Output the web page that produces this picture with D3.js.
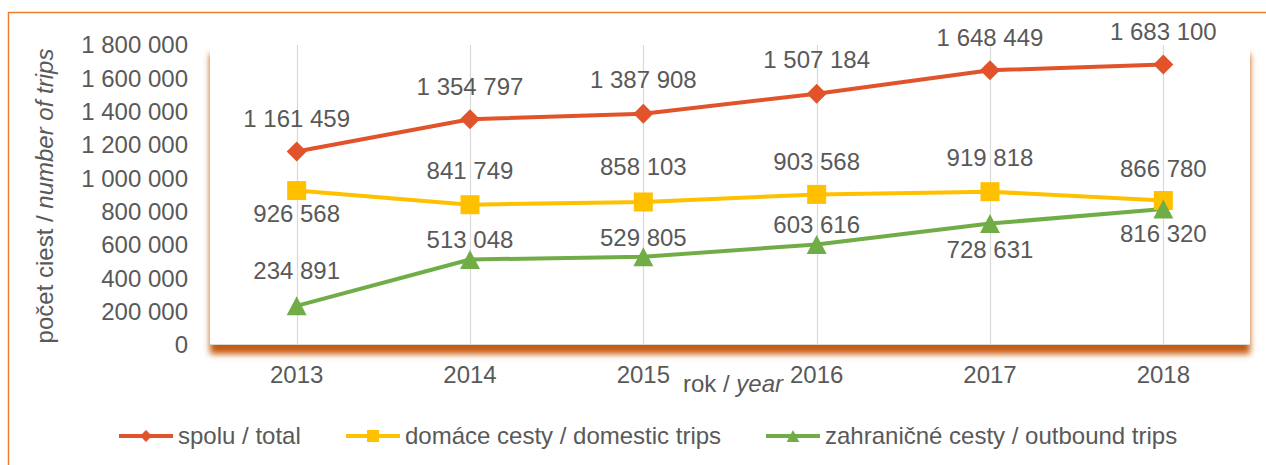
<!DOCTYPE html>
<html><head><meta charset="utf-8">
<script src="https://cdn.jsdelivr.net/npm/d3@7"></script>
<style>
html,body{margin:0;padding:0;background:#fff;}
svg{display:block;font-family:"Liberation Sans",Arial,sans-serif;}
</style></head>
<body><svg id="c" width="1266" height="465"></svg>
<script>
const years = ["2013","2014","2015","2016","2017","2018"];
const total = [1161459,1354797,1387908,1507184,1648449,1683100];
const domestic = [926568,841749,858103,903568,919818,866780];
const outbound = [234891,513048,529805,603616,728631,816320];
const yTicks = [0,200000,400000,600000,800000,1000000,1200000,1400000,1600000,1800000];
const seriesNames = ["spolu / total","domáce cesty / domestic trips","zahraničné cesty / outbound trips"];
// label placement (layout, not data)
const totalLabelDy = [-33,-33,-34,-34,-33,-33];
const domesticLabelDy = [23,-34,-35,-33,-34,-32];
const outboundLabelDy = [-35,-20,-19,-20,26,25];

const W=1266,H=465;
const svg=d3.select("#c");
const TXT="#595959";
const loc=d3.formatLocale({thousands:" ",grouping:[3],decimal:",",currency:["",""]});
const fmt=loc.format(",d");

// frame
svg.append("rect").attr("x",8.5).attr("y",12.5).attr("width",W).attr("height",H)
  .attr("fill","none").attr("stroke","#ED7D31").attr("stroke-width",1.5);

const x=d3.scaleBand().domain(years).range([210,1250]).padding(0);
const y=d3.scaleLinear().domain([0,1800000]).range([345,45]);
const cx=d=>x(d)+x.bandwidth()/2;

const defs=svg.append("defs");
const f=defs.append("filter").attr("id","sh").attr("x","-5%").attr("y","-10%").attr("width","110%").attr("height","130%");
f.append("feDropShadow").attr("dx",0).attr("dy",9).attr("stdDeviation",3)
  .attr("flood-color","#C55A11").attr("flood-opacity",1);

svg.append("rect").attr("x",x.range()[0]).attr("y",y(1800000))
  .attr("width",x.range()[1]-x.range()[0]).attr("height",y(0)-y(1800000))
  .attr("fill","#fff").attr("filter","url(#sh)");

// vertical gridlines
svg.append("g").selectAll("line").data(years).join("line")
  .attr("x1",d=>Math.round(cx(d))+0.5).attr("x2",d=>Math.round(cx(d))+0.5).attr("y1",y(1800000)).attr("y2",y(0))
  .attr("stroke","#D9D9D9").attr("stroke-width",1.2);
svg.append("line").attr("x1",x.range()[0]).attr("x2",x.range()[1]).attr("y1",y(0)-0.5).attr("y2",y(0)-0.5)
  .attr("stroke","#D9D9D9").attr("stroke-width",1.2);

// axes
const ya=svg.append("g").attr("transform",`translate(${x.range()[0]},0)`)
  .call(d3.axisLeft(y).tickValues(yTicks).tickFormat(fmt).tickSize(0).tickPadding(22));
ya.select(".domain").remove();
ya.selectAll("text").attr("font-size",24).attr("fill",TXT).attr("font-family","Liberation Sans, Arial, sans-serif");

const xa=svg.append("g").attr("transform",`translate(0,${y(0)})`)
  .call(d3.axisBottom(x).tickSize(0).tickPadding(21));
xa.select(".domain").remove();
xa.selectAll("text").attr("font-size",24).attr("fill",TXT).attr("font-family","Liberation Sans, Arial, sans-serif");

// axis titles
const xt=svg.append("text").attr("x",733).attr("y",392).attr("text-anchor","middle")
  .attr("font-size",24).attr("fill",TXT);
xt.append("tspan").text("rok / ");
xt.append("tspan").attr("font-style","italic").text("year");

const yt=svg.append("text").attr("transform","translate(45,196) rotate(-90)").attr("text-anchor","middle")
  .attr("dy","0.35em").attr("font-size",24).attr("fill",TXT);
yt.append("tspan").text("počet ciest / ");
yt.append("tspan").attr("font-style","italic").text("number of trips");

// symbol types
const diamond={draw(ctx,size){const r=Math.sqrt(size)/2;ctx.moveTo(0,-r);ctx.lineTo(r,0);ctx.lineTo(0,r);ctx.lineTo(-r,0);ctx.closePath();}};
const square={draw(ctx,size){const r=Math.sqrt(size)/2;ctx.rect(-r,-r,2*r,2*r);}};
const tri={draw(ctx,size){const r=Math.sqrt(size)/2;ctx.moveTo(0,-r);ctx.lineTo(r*1.05,r);ctx.lineTo(-r*1.05,r);ctx.closePath();}};

const series=[
  {name:seriesNames[0],vals:total,color:"#E1532B",sym:diamond,size:20*20,lsize:12*12,dy:totalLabelDy},
  {name:seriesNames[1],vals:domestic,color:"#FFC000",sym:square,size:19*19,lsize:12*12,dy:domesticLabelDy},
  {name:seriesNames[2],vals:outbound,color:"#70AD47",sym:tri,size:19*19,lsize:12*12,dy:outboundLabelDy}
];

const line=d3.line().x((d,i)=>cx(years[i])).y(d=>y(d));
series.forEach(s=>{
  svg.append("path").datum(s.vals).attr("d",line).attr("fill","none")
    .attr("stroke",s.color).attr("stroke-width",4).attr("stroke-linejoin","round");
});
series.forEach(s=>{
  svg.append("g").selectAll("path").data(s.vals).join("path")
    .attr("transform",(d,i)=>`translate(${cx(years[i])},${y(d)})`)
    .attr("d",d3.symbol().type(s.sym).size(s.size)).attr("fill",s.color);
});
series.forEach(s=>{
  svg.append("g").selectAll("text").data(s.vals).join("text")
    .attr("x",(d,i)=>cx(years[i]))
    .attr("y",(d,i)=>y(d)+s.dy[i])
    .attr("dy","0.35em").attr("text-anchor","middle")
    .attr("font-size",24).attr("fill",TXT).text(d=>fmt(d));
});

// legend
const legX=[119,346,766];
const lg=svg.append("g");
series.forEach((s,i)=>{
  const g=lg.append("g").attr("transform",`translate(${legX[i]},436)`);
  g.append("line").attr("x1",0).attr("x2",54).attr("stroke",s.color).attr("stroke-width",4);
  g.append("path").attr("transform","translate(27,0)").attr("d",d3.symbol().type(s.sym).size(s.lsize)).attr("fill",s.color);
  g.append("text").attr("x",59).attr("dy","0.35em").attr("font-size",24).attr("fill",TXT).text(s.name);
});
</script></body></html>
